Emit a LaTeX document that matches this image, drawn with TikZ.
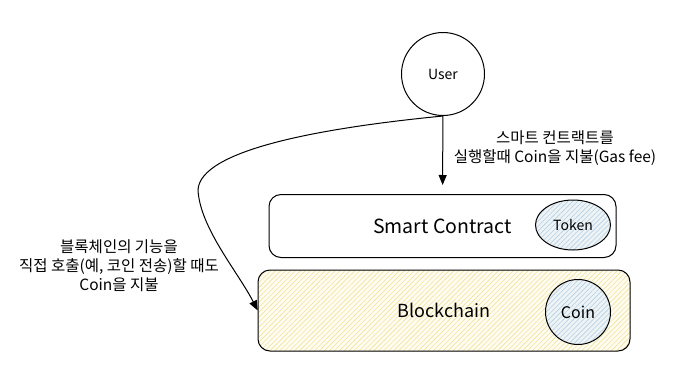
\documentclass[tikz,border=0pt]{standalone}
\usepackage{fontspec}
\setmainfont{Noto Sans CJK KR}
\usetikzlibrary{arrows.meta,patterns.meta,shapes.geometric}
\definecolor{chainfill}{HTML}{FFFDF2}
\definecolor{chainhatch}{HTML}{F0E19A}
\definecolor{coinfill}{HTML}{EEF3F6}
\definecolor{coinhatch}{HTML}{B3CFE4}

\begin{document}
\begin{tikzpicture}[x=1pt,y=-1pt,line width=1pt,>={Triangle[length=10pt,width=8pt]},
    box/.style={draw,rounded corners=12pt,inner sep=0pt},
    hatch/.style 2 args={preaction={fill=#1},pattern={Lines[angle=45,distance=3.5pt,line width=0.6pt]},pattern color=#2},
    lbl/.style={font=\fontsize{15.5}{19}\selectfont,align=center}]
  \useasboundingbox (0,0) rectangle (680,388);
  % participante
  \node[draw,circle,minimum size=83pt,inner sep=0pt,font=\fontsize{14}{16}\selectfont] (user) at (443,74) {User};
  % capas
  \node[box,minimum width=347pt,minimum height=63pt,font=\fontsize{19.5}{20}\selectfont] (contract) at (442.5,226) {Smart Contract};
  \node[box,hatch={chainfill}{chainhatch},minimum width=372pt,minimum height=81pt,font=\fontsize{18}{20}\selectfont] (chain) at (444,310.5) {Blockchain};
  % activos
  \node[draw,ellipse,hatch={coinfill}{coinhatch},minimum width=75pt,minimum height=50pt,inner sep=0pt,font=\fontsize{14}{16}\selectfont] (token) at (573,225) {Token};
  \node[draw,circle,hatch={coinfill}{coinhatch},minimum size=65pt,inner sep=0pt,font=\fontsize{16}{18}\selectfont] (coin) at (578,312) {Coin};
  % llamadas con gas
  \draw[->,shorten >=9pt] (user) -- (contract);
  \node[lbl] (gaslbl) at (555,148) {스마트 컨트랙트를\\실행할때 Coin을 지불(Gas fee)};
  \coordinate (bend) at (198,190);
  \draw[->] (user.south) .. controls (320,128) and (200,150) .. (bend)
        .. controls (200,228) and (238,272) .. (chain.west);
  \node[lbl] (calllbl) at (119,266) {블록체인의 기능을\\직접 호출(예, 코인 전송)할 때도\\Coin을 지불};
\end{tikzpicture}
\end{document}
